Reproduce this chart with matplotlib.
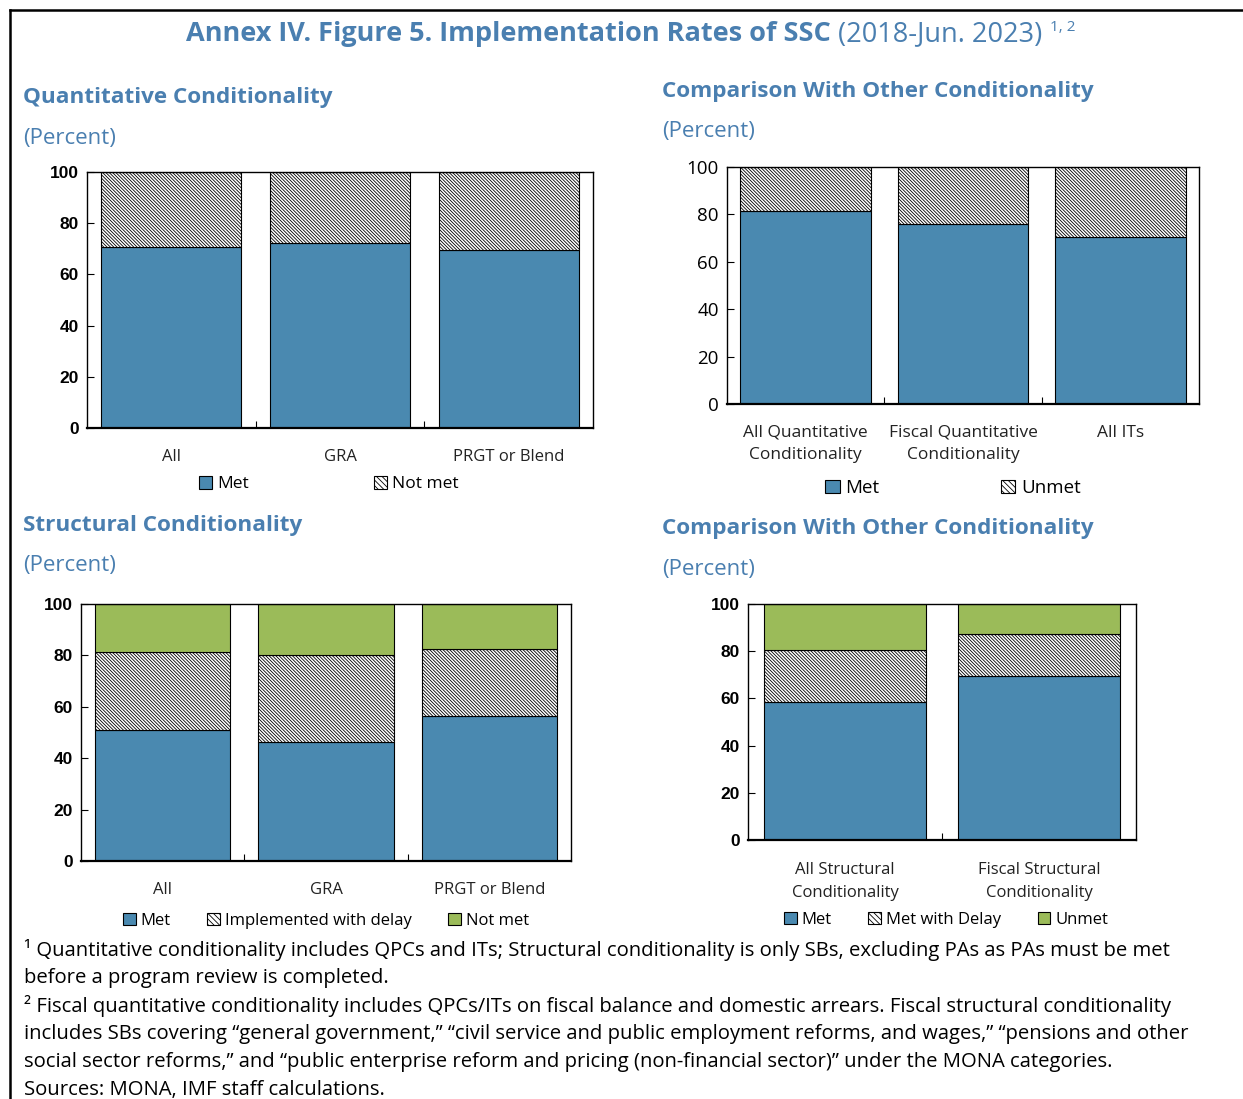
"""Annex IV Figure 5: implementation rates of SSC, four stacked-bar panels."""

import matplotlib

matplotlib.use("Agg")
import matplotlib.pyplot as plt
from matplotlib.lines import Line2D
from matplotlib.patches import Patch

W, H = 1243, 1099
DPI = 100

TITLE_BLUE = "#4a7fb0"
BAR_BLUE = "#4a89b0"
BAR_GREEN = "#9bbb59"
HATCH = "\\" * 10

quant_cats = ["All", "GRA", "PRGT or Blend"]
quant_met = [70.7, 72.3, 69.7]
quant_not_met = [29.3, 27.7, 30.3]

comp_q_cats = ["All Quantitative\nConditionality", "Fiscal Quantitative\nConditionality", "All ITs"]
comp_q_met = [81.6, 76.0, 70.5]
comp_q_unmet = [18.4, 24.0, 29.5]

struct_cats = ["All", "GRA", "PRGT or Blend"]
struct_met = [50.9, 46.3, 56.5]
struct_delay = [30.3, 33.7, 26.1]
struct_not_met = [18.8, 20.0, 17.4]

comp_s_cats = ["All Structural\nConditionality", "Fiscal Structural\nConditionality"]
comp_s_met = [58.6, 69.4]
comp_s_delay = [22.0, 18.0]
comp_s_unmet = [19.4, 12.6]

footnotes = [
    "\u00b9 Quantitative conditionality includes QPCs and ITs; Structural conditionality is only SBs, "
    "excluding PAs as PAs must be met",
    "before a program review is completed.",
    "\u00b2 Fiscal quantitative conditionality includes QPCs/ITs on fiscal balance and domestic arrears. "
    "Fiscal structural conditionality",
    "includes SBs covering \u201cgeneral government,\u201d \u201ccivil service and public employment reforms, "
    "and wages,\u201d \u201cpensions and other",
    "social sector reforms,\u201d and \u201cpublic enterprise reform and pricing (non-financial sector)\u201d "
    "under the MONA categories.",
    "Sources: MONA, IMF staff calculations.",
]

plt.rcParams["font.family"] = ["Open Sans", "DejaVu Sans"]
plt.rcParams["hatch.linewidth"] = 0.6

fig = plt.figure(figsize=(W / DPI, H / DPI), dpi=DPI)


def fx(x):
    return x / W


def fy(y):
    return 1 - y / H


def add_axes_px(left, top, right, bottom):
    return fig.add_axes([fx(left), fy(bottom), (right - left) / W, (bottom - top) / H])


def draw_panel(ax, cats, layers, tick_font, label_font, label_pad):
    x = list(range(len(cats)))
    bottom = [0.0] * len(cats)
    for values, color, hatch in layers:
        ax.bar(x, values, width=0.83, bottom=bottom, color=color, hatch=hatch,
               edgecolor="black", linewidth=0.8)
        bottom = [b + v for b, v in zip(bottom, values)]
    ax.set_xlim(-0.5, len(cats) - 0.5)
    ax.set_ylim(0, 100)
    ax.set_yticks(range(0, 101, 20))
    ax.set_xticks(x)
    ax.set_xticklabels(cats, **label_font)
    ax.set_xticks([i + 0.5 for i in range(len(cats) - 1)], minor=True)
    ax.tick_params(axis="x", which="major", length=0, pad=label_pad)
    ax.tick_params(axis="x", which="minor", direction="in", length=5, width=0.8)
    ax.tick_params(axis="y", direction="in", length=5, width=0.8, pad=6)
    for label in ax.get_yticklabels():
        label.set(**tick_font)
    for spine in ax.spines.values():
        spine.set_linewidth(1.0)
    ax.spines["bottom"].set_linewidth(1.6)


def panel_legend(handles, labels, cx, cy, size, spacing):
    fig.legend(handles, labels, loc="center", bbox_to_anchor=(fx(cx), fy(cy)),
               ncol=len(labels), frameon=False, handlelength=0.75, handleheight=0.75,
               handletextpad=0.3, columnspacing=spacing, borderaxespad=0,
               prop={"size": size})


def met_patch(color):
    return Patch(facecolor=color, edgecolor="black", linewidth=0.8)


hatch_patch = Patch(facecolor="white", edgecolor="black", hatch="\\" * 6, linewidth=0.8)

# main title, assembled from pieces
renderer = fig.canvas.get_renderer()
pieces = [
    ("Annex IV. Figure 5. Implementation Rates of SSC", "bold", 19.5, 0),
    (" (2018-Jun. 2023)", "normal", 19.5, 0),
    ("  1, 2", "normal", 11, 10),
]
texts = []
total = 0
for s, weight, size, rise in pieces:
    t = fig.text(0, 0, s, fontsize=size, fontweight=weight, color=TITLE_BLUE, va="baseline")
    w = t.get_window_extent(renderer).width
    texts.append((t, w, rise))
    total += w
x0 = 631 - total / 2
for t, w, rise in texts:
    t.set_position((fx(x0), fy(41 - rise)))
    x0 += w

# panel titles
title_kw = dict(fontsize=16.2, fontweight="bold", color=TITLE_BLUE, va="center")
pct_kw = dict(fontsize=16, color=TITLE_BLUE, va="center")
fig.text(fx(23), fy(98), "Quantitative Conditionality", **title_kw)
fig.text(fx(23), fy(138), "(Percent)", **pct_kw)
fig.text(fx(662), fy(92), "Comparison With Other Conditionality", **title_kw)
fig.text(fx(662), fy(132), "(Percent)", **pct_kw)
fig.text(fx(23), fy(526), "Structural Conditionality", **title_kw)
fig.text(fx(23), fy(565), "(Percent)", **pct_kw)
fig.text(fx(662), fy(529), "Comparison With Other Conditionality", **title_kw)
fig.text(fx(662), fy(570), "(Percent)", **pct_kw)

small_tick = dict(fontsize=12.5, fontweight="bold", family=["Liberation Sans", "DejaVu Sans"])
small_label = dict(fontsize=12, color="#222222")

# top left
ax1 = add_axes_px(87, 172, 593, 428)
draw_panel(ax1, quant_cats,
           [(quant_met, BAR_BLUE, None), (quant_not_met, "white", HATCH)],
           small_tick, small_label, 15)
panel_legend([met_patch(BAR_BLUE), hatch_patch], ["Met", "Not met"], 329, 484, 12.5, 7.2)

# top right
ax2 = add_axes_px(727, 167, 1199, 404)
draw_panel(ax2, comp_q_cats,
           [(comp_q_met, BAR_BLUE, None), (comp_q_unmet, "white", HATCH)],
           dict(fontsize=13.5), dict(fontsize=12.5, color="#222222", linespacing=1.5), 15)
panel_legend([met_patch(BAR_BLUE), hatch_patch], ["Met", "Unmet"], 953, 488, 13.5, 6.5)

# bottom left
ax3 = add_axes_px(81, 604, 571, 861)
draw_panel(ax3, struct_cats,
           [(struct_met, BAR_BLUE, None), (struct_delay, "white", HATCH),
            (struct_not_met, BAR_GREEN, None)],
           small_tick, small_label, 15)
panel_legend([met_patch(BAR_BLUE), hatch_patch, met_patch(BAR_GREEN)],
             ["Met", "Implemented with delay", "Not met"], 326, 921, 12, 2.2)

# bottom right
ax4 = add_axes_px(748, 604, 1136, 840)
draw_panel(ax4, comp_s_cats,
           [(comp_s_met, BAR_BLUE, None), (comp_s_delay, "white", HATCH),
            (comp_s_unmet, BAR_GREEN, None)],
           small_tick, dict(fontsize=12, color="#222222", linespacing=1.6), 16)
panel_legend([met_patch(BAR_BLUE), hatch_patch, met_patch(BAR_GREEN)],
             ["Met", "Met with Delay", "Unmet"], 946, 920, 12, 2.2)

# footnotes
for i, line in enumerate(footnotes):
    fig.text(fx(24), fy(950 + 28 * i), line, fontsize=14.6, color="black", va="center")

# outer frame (top and left edges)
fig.add_artist(Line2D([fx(10), fx(W)], [fy(10), fy(10)], color="black", linewidth=1.8))
fig.add_artist(Line2D([fx(10), fx(10)], [fy(10), fy(H)], color="black", linewidth=1.8))

fig.savefig("out.png", dpi=DPI, facecolor="white")
